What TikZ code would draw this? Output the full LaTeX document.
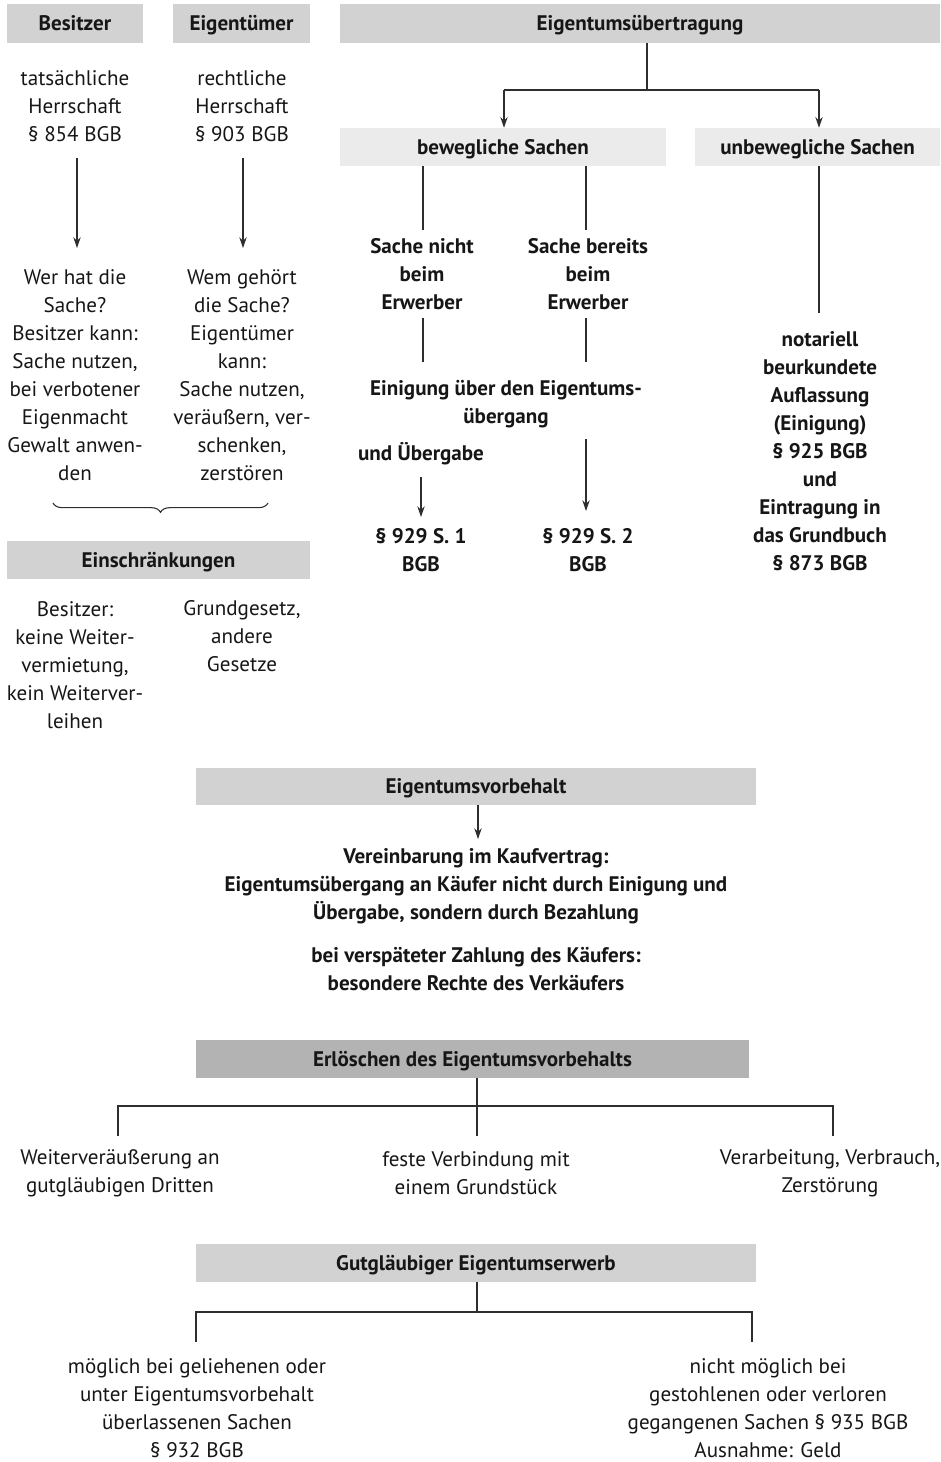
\documentclass[tikz,border=0pt]{standalone}
\usepackage{fontspec}
\setmainfont{PT Sans}
\usetikzlibrary{arrows.meta,fit,decorations.pathreplacing}
\definecolor{hdrgray}{HTML}{D2D2D2}
\definecolor{subgray}{HTML}{EBEBEB}
\definecolor{darkgray2}{HTML}{B3B3B3}
\definecolor{linecol}{HTML}{2E2E2E}
\definecolor{txtcol}{HTML}{161616}
\begin{document}
\begin{tikzpicture}[x=0.75pt,y=-0.75pt,
  every node/.style={text=txtcol},
  lbl/.style={inner sep=0pt, text=txtcol, text height=11pt, text depth=0pt, font=\fontsize{15.8}{21}\selectfont\bfseries},
  boxbase/.style={inner sep=0pt},
  hdr/.style={boxbase, fill=hdrgray},
  subhdr/.style={boxbase, fill=subgray},
  darkhdr/.style={boxbase, fill=darkgray2},
  txt/.style={inner sep=0pt, align=center, font=\fontsize{15.8}{21}\selectfont},
  btxt/.style={txt, font=\fontsize{15.8}{21}\selectfont\bfseries},
  conn/.style={draw=linecol, line width=0.9pt},
  arr/.style={conn, -{Stealth[length=8pt,width=5.5pt]}}
]
\useasboundingbox (0,0) rectangle (940,1462);

% ---------- top left ----------
\node[hdr, fit={(7,4) (143,43)}, label={[lbl]center:Besitzer}] (bes) {};
\node[hdr, fit={(173,4) (310,43)}, label={[lbl]center:Eigentümer}] (eig) {};
\node[txt] (t1) at (75,106) {tatsächliche\\Herrschaft\\§ 854 BGB};
\node[txt] (t2) at (242,106) {rechtliche\\Herrschaft\\§ 903 BGB};
\coordinate (a1s) at (77,158); \coordinate (a1e) at (77,248);
\coordinate (a2s) at (243,158); \coordinate (a2e) at (243,248);
\draw[arr] (a1s) -- (a1e);
\draw[arr] (a2s) -- (a2e);
\node[txt] (t3) at (75,375.5) {Wer hat die\\Sache?\\Besitzer kann:\\Sache nutzen,\\bei verbotener\\Eigenmacht\\Gewalt anwen-\\den};
\node[txt] (t4) at (242,375.5) {Wem gehört\\die Sache?\\Eigentümer\\kann:\\Sache nutzen,\\veräußern, ver-\\schenken,\\zerstören};
\coordinate (brl) at (53,503); \coordinate (brr) at (268,503);
\draw[conn, line width=0.8pt, decorate, decoration={brace, mirror, amplitude=7pt}] (brl) -- (brr);
\node[hdr, fit={(7,541) (310,579)}, label={[lbl]center:Einschränkungen}] (ein) {};
\node[txt] (t5) at (75,665) {Besitzer:\\keine Weiter-\\vermietung,\\kein Weiterver-\\leihen};
\node[txt] (t6) at (242,636.5) {Grundgesetz,\\andere\\Gesetze};

% ---------- top right ----------
\node[hdr, fit={(340,4) (940,43)}, label={[lbl]center:Eigentumsübertragung}] (ueb) {};
\coordinate (jt) at (647,90);
\coordinate (jl) at (504,90);
\coordinate (jr) at (819,90);
\node[subhdr, fit={(340,128) (666,166)}, label={[lbl]center:bewegliche Sachen}] (bew) {};
\node[subhdr, fit={(695,128) (940,166)}, label={[lbl]center:unbewegliche Sachen}] (unb) {};
\draw[conn] (ueb.south -| jt) -- (jt);
\draw[conn] (jl) -- (jr);
\draw[arr] (jl) -- (bew.north -| jl);
\draw[arr] (jr) -- (unb.north -| jr);

\node[btxt] (snb) at (422,274.5) {Sache nicht\\beim\\Erwerber};
\node[btxt] (sbb) at (588,274.5) {Sache bereits\\beim\\Erwerber};
\coordinate (l1e) at (423,230); \coordinate (l2e) at (586,230);
\draw[conn] (bew.south -| l1e) -- (l1e);
\draw[conn] (bew.south -| l2e) -- (l2e);
\coordinate (l3s) at (423,318); \coordinate (l3e) at (423,362);
\coordinate (l4s) at (586,318); \coordinate (l4e) at (586,362);
\draw[conn] (l3s) -- (l3e);
\draw[conn] (l4s) -- (l4e);
\node[btxt] (einig) at (506,404) {Einigung über den Eigentums-\\übergang};
\node[btxt] (uebg) at (421,454) {und Übergabe};
\coordinate (a3s) at (421,477); \coordinate (a3e) at (421,517);
\coordinate (a4s) at (586,439); \coordinate (a4e) at (586,511);
\draw[arr] (a3s) -- (a3e);
\draw[arr] (a4s) -- (a4e);
\node[btxt] (p1) at (421,550) {§ 929 S. 1\\BGB};
\node[btxt] (p2) at (588,550) {§ 929 S. 2\\BGB};
\coordinate (l5e) at (819,313);
\draw[conn] (unb.south -| l5e) -- (l5e);
\node[btxt] (not) at (820,451) {notariell\\beurkundete\\Auflassung\\(Einigung)\\§ 925 BGB\\und\\Eintragung in\\das Grundbuch\\§ 873 BGB};

% ---------- Eigentumsvorbehalt ----------
\node[hdr, fit={(196,768) (756,805)}, label={[lbl]center:Eigentumsvorbehalt}] (ev) {};
\coordinate (a5e) at (478,839);
\draw[arr] (ev.south -| a5e) -- (a5e);
\node[btxt] (ver) at (476,886.5) {Vereinbarung im Kaufvertrag:\\Eigentumsübergang an Käufer nicht durch Einigung und\\Übergabe, sondern durch Bezahlung};
\node[btxt] (spaet) at (476,969) {bei verspäteter Zahlung des Käufers:\\besondere Rechte des Verkäufers};

% ---------- Erlöschen ----------
\node[darkhdr, fit={(196,1040) (749,1078)}, label={[lbl]center:Erlöschen des Eigentumsvorbehalts}] (erl) {};
\coordinate (ej) at (477,1106);
\coordinate (el) at (118,1106);
\coordinate (er) at (833,1106);
\coordinate (elb) at (118,1136);
\coordinate (emb) at (477,1136);
\coordinate (erb) at (833,1136);
\draw[conn] (erl.south -| ej) -- (emb);
\draw[conn] (elb) -- (el) -- (er) -- (erb);
\node[txt] (e1) at (120,1173) {Weiterveräußerung an\\gutgläubigen Dritten};
\node[txt] (e2) at (476,1173) {feste Verbindung mit\\einem Grundstück};
\node[txt] (e3) at (830,1173) {Verarbeitung, Verbrauch,\\Zerstörung};

% ---------- Gutgläubiger Eigentumserwerb ----------
\node[hdr, fit={(196,1244) (756,1282)}, label={[lbl]center:Gutgläubiger Eigentumserwerb}] (gut) {};
\coordinate (gj) at (477,1312);
\coordinate (gl) at (196,1312);
\coordinate (gr) at (752,1312);
\coordinate (glb) at (196,1342);
\coordinate (grb) at (752,1342);
\draw[conn] (gut.south -| gj) -- (gj);
\draw[conn] (glb) -- (gl) -- (gr) -- (grb);
\node[txt] (g1) at (197,1408) {möglich bei geliehenen oder\\unter Eigentumsvorbehalt\\überlassenen Sachen\\§ 932 BGB};
\node[txt] (g2) at (768,1408) {nicht möglich bei\\gestohlenen oder verloren\\gegangenen Sachen § 935 BGB\\Ausnahme: Geld};
\end{tikzpicture}
\end{document}
